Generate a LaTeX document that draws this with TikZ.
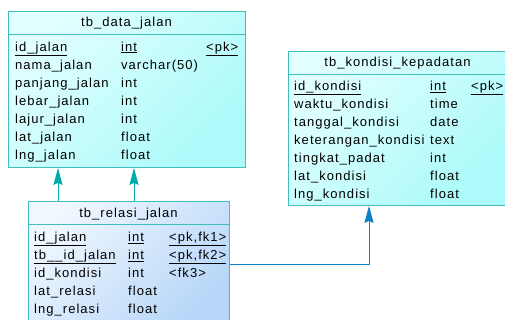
\documentclass[tikz,border=0pt]{standalone}
\usepackage{fontspec}
\setmainfont{Liberation Sans}[LetterSpace=8]
\usepackage{xcolor}
\usetikzlibrary{arrows.meta,positioning,calc}

\definecolor{tblborder}{RGB}{64,190,190}
\definecolor{cyanlite}{RGB}{226,255,255}
\definecolor{cyandeep}{RGB}{172,250,250}
\definecolor{bluelite}{RGB}{240,247,255}
\definecolor{bluedeep}{RGB}{182,214,248}
\definecolor{fkteal}{RGB}{0,170,170}
\definecolor{fkblue}{RGB}{10,128,200}

\begin{document}
\begin{tikzpicture}[x=1pt,y=-1pt,
  tbl/.style={draw=tblborder, line width=0.9pt, anchor=north west, inner sep=0pt, shading angle=45},
  cyantbl/.style={tbl, top color=cyanlite, bottom color=cyandeep, shading angle=45},
  bluetbl/.style={tbl, top color=bluelite, bottom color=bluedeep, shading angle=45},
  title/.style={anchor=base, inner sep=0pt, font=\fontsize{13}{18}\selectfont},
  col/.style={anchor=north west, inner sep=0pt, align=left, font=\fontsize{13}{18}\selectfont},
  fkline/.style={draw=fkteal, line width=0.9pt, -{Stealth[length=17pt,width=9pt,inset=2pt]}},
  fkline3/.style={draw=fkblue, line width=0.9pt, -{Stealth[length=17pt,width=9pt,inset=2pt]}}]
\useasboundingbox (0,0) rectangle (505,320);

% Tables (column nodes start one strut above the first baseline)
\node[cyantbl, minimum width=237pt, minimum height=156pt] (jalan) at (8,11) {};
\draw[tblborder, line width=0.9pt] ([yshift=-23pt]jalan.north west) -- ([yshift=-23pt]jalan.north east);
\node[title] (jalan-title) at (126.5,27) {tb\_data\_jalan};
\node[col] (jalan-name) at (15,38.4) {\strut\underline{id\_jalan}\\nama\_jalan\\panjang\_jalan\\lebar\_jalan\\lajur\_jalan\\lat\_jalan\\lng\_jalan};
\node[col] (jalan-type) at (121,38.4) {\strut\underline{int}\\varchar(50)\\int\\int\\int\\float\\float};
\node[col] (jalan-key) at (206,38.4) {\strut\underline{<pk>}};

\node[cyantbl, minimum width=219pt, minimum height=154pt] (kondisi) at (288,51) {};
\draw[tblborder, line width=0.9pt] ([yshift=-23pt]kondisi.north west) -- ([yshift=-23pt]kondisi.north east);
\node[title] (kondisi-title) at (397.5,67) {tb\_kondisi\_kepadatan};
\node[col] (kondisi-name) at (294,77.4) {\strut\underline{id\_kondisi}\\waktu\_kondisi\\tanggal\_kondisi\\keterangan\_kondisi\\tingkat\_padat\\lat\_kondisi\\lng\_kondisi};
\node[col] (kondisi-type) at (430,77.4) {\strut\underline{int}\\time\\date\\text\\int\\float\\float};
\node[col] (kondisi-key) at (471,77.4) {\strut\underline{<pk>}};

\node[bluetbl, minimum width=201pt, minimum height=125pt] (relasi) at (28,201) {};
\draw[tblborder, line width=0.9pt] ([yshift=-23pt]relasi.north west) -- ([yshift=-23pt]relasi.north east);
\node[title] (relasi-title) at (128.5,217) {tb\_relasi\_jalan};
\node[col] (relasi-name) at (34,228.4) {\strut\underline{id\_jalan}\\\underline{tb\_\_id\_jalan}\\id\_kondisi\\lat\_relasi\\lng\_relasi};
\node[col] (relasi-type) at (128,228.4) {\strut\underline{int}\\\underline{int}\\int\\float\\float};
\node[col] (relasi-key) at (169,228.4) {\strut\underline{<pk,fk1>}\\\underline{<pk,fk2>}\\<fk3>};

% References
\coordinate (fk1) at (58,201);
\coordinate (fk2) at (134,201);
\coordinate (fk3) at (369,264);
\draw[fkline] (fk1) -- (fk1 |- jalan.south);
\draw[fkline] (fk2) -- (fk2 |- jalan.south);
\draw[fkline3] (relasi.east |- fk3) -- (fk3) -- (fk3 |- kondisi.south);

\end{tikzpicture}
\end{document}
